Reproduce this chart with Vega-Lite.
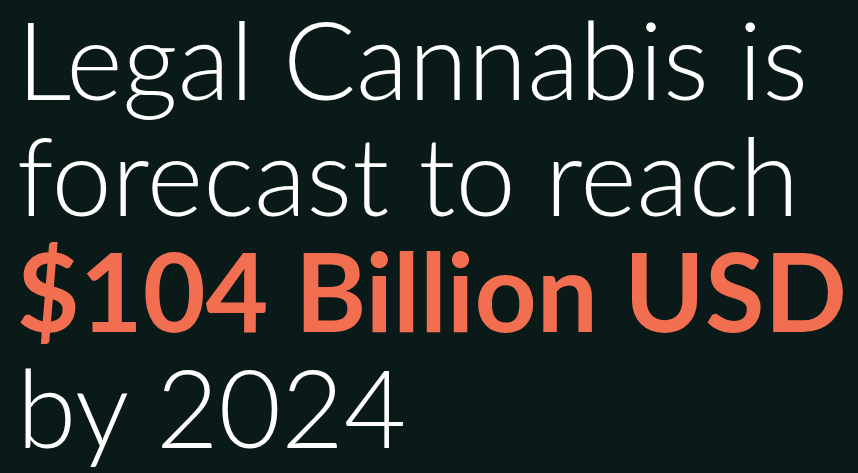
{
  "$schema": "https://vega.github.io/schema/vega-lite/v6.json",
  "width": 858,
  "height": 473,
  "autosize": {"type": "fit", "contains": "padding"},
  "padding": 0,
  "background": "#0a1a19",
  "config": {"view": {"stroke": null}},
  "data": {
    "values": [
      {"line": 1, "x": 0, "text": "Legal Cannabis is", "style": "light"},
      {"line": 2, "x": 0, "text": "forecast to reach", "style": "light"},
      {"line": 3, "x": 0, "text": "$104 Billion USD", "style": "bold"},
      {"line": 4, "x": 0, "text": "by 2024", "style": "light"}
    ]
  },
  "encoding": {
    "x": {"field": "x", "type": "quantitative", "scale": {"domain": [-0.02, 1]}, "axis": null},
    "y": {"field": "line", "type": "quantitative", "scale": {"domain": [0.138, 4.216], "reverse": true}, "axis": null},
    "text": {"field": "text"}
  },
  "layer": [
    {
      "transform": [{"filter": "datum.style === 'light'"}],
      "mark": {"type": "text", "align": "left", "baseline": "alphabetic", "font": "Lato", "fontWeight": 300, "fontSize": 108, "color": "#ffffff"}
    },
    {
      "transform": [{"filter": "datum.style === 'bold'"}],
      "mark": {"type": "text", "align": "left", "baseline": "alphabetic", "font": "Lato", "fontWeight": 700, "fontSize": 108.5, "color": "#f26e50"}
    }
  ]
}
